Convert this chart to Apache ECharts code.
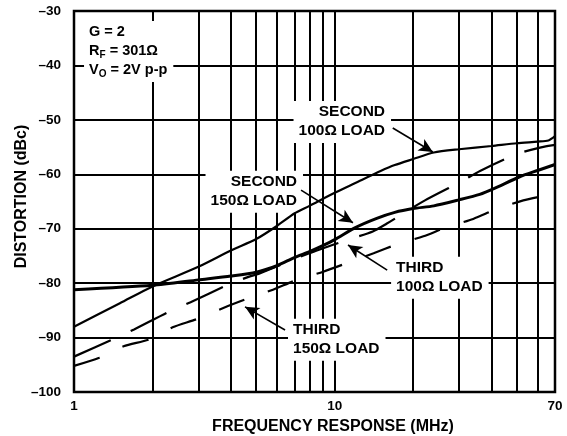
<!DOCTYPE html>
<html><head><meta charset="utf-8">
<script src="https://cdn.jsdelivr.net/npm/echarts@6/dist/echarts.min.js"></script>
<style>html,body{margin:0;padding:0;background:#fff}#c{width:567px;height:436px}</style>
</head><body><div id="c"></div>
<script>
// ---- data (frequency MHz, distortion dBc) ----
const yMin = -100, yMax = -30, yStep = 10;
const xMin = 1, xMax = 70;
const xMinorGrid = [2, 3, 4, 5, 6, 7, 8, 9, 20, 30, 40, 50, 60];

const second100 = [[1,-88.0],[1.5,-83.7],[2,-80.6],[3,-77.0],[4,-74.0],[5,-71.9],[6,-69.5],[7,-67.2],[8,-65.8],[10,-63.4],[12,-61.6],[15,-59.4],[17,-58.3],[20,-57.2],[24,-56.0],[30,-55.4],[40,-54.8],[50,-54.3],[60,-54.0],[66,-53.8],[70,-53.0]];
const second150 = [[1,-81.2],[2,-80.4],[3,-79.4],[4,-78.7],[5,-78.0],[6,-76.8],[7,-75.3],[8,-74.2],[9,-73.1],[10,-72.0],[12,-69.8],[14.5,-68.1],[17,-67.0],[20,-66.3],[24,-65.8],[30,-64.7],[36,-63.7],[41,-62.6],[51,-60.5],[60,-59.3],[70,-58.2]];
const third100 = [[1,-93.5],[1.4,-90.4],[1.7,-88.5],[2.3,-85.3],[2.8,-83.5],[3.9,-80.3],[4.7,-78.8],[5.1,-78.3],[7.9,-74.6],[11.1,-72.1],[14,-70.5],[15.8,-69.1],[22.2,-64.8],[30.7,-61.3],[36.1,-59.4],[49.9,-56.3],[61.3,-55.1],[70,-54.6]];
const third150 = [[1,-95.2],[1.25,-93.7],[1.55,-91.6],[1.96,-90.3],[2.39,-88.1],[2.96,-86.6],[3.72,-84.6],[4.6,-82.9],[5.8,-81.2],[7.15,-79.4],[9.04,-77.9],[11.3,-76.2],[14.1,-74.5],[17.5,-72.8],[21.9,-71.4],[26.9,-69.7],[34,-68.2],[41.8,-66.4],[52.9,-64.8],[65.9,-63.8],[70,-63.4]];

// annotation arrows: [from, to] in data coords
const arrows = [
  [[16.7,-51.5],[23.8,-55.9]],
  [[7.43,-62.9],[11.75,-68.9]],
  [[15.9,-77.6],[11.25,-73.0]],
  [[6.45,-88.6],[4.53,-84.35]]
];
// annotation texts: anchor (data coords) = top of first line
const notes = [
  {at:[1.142,-32.4], align:'left', size:14.5, lines:[[['G = 2',0]],[['R',0],['F',1],[' = 301\u03A9',0]],[['V',0],['O',1],[' = 2V p-p',0]]]},
  {at:[15.6,-47.1], align:'right', size:15.5, lines:[[['SECOND',0]],[['100\u03A9 LOAD',0]]]},
  {at:[7.17,-59.9], align:'right', size:15.5, lines:[[['SECOND',0]],[['150\u03A9 LOAD',0]]]},
  {at:[17.2,-75.7], align:'left', size:15.5, lines:[[['THIRD',0]],[['100\u03A9 LOAD',0]]]},
  {at:[6.92,-87.1], align:'left', size:15.5, lines:[[['THIRD',0]],[['150\u03A9 LOAD',0]]]}
];

const FONT = '"Liberation Sans", Arial, Helvetica, sans-serif';
const chart = echarts.init(document.getElementById('c'), null, {renderer:'canvas'});
const curve = (name, data, width, dash) => ({
  type:'line', name, data, symbol:'none', showSymbol:false, smooth:0.25, z:5,
  lineStyle:{color:'#000', width, type: dash || 'solid', cap:'butt'}, silent:true
});
chart.setOption({
  animation:false,
  backgroundColor:'#fff',
  grid:{left:74, right:12, top:11, bottom:44, show:true, borderColor:'#000', borderWidth:2.5,
    backgroundColor:'transparent', containLabel:false, outerBoundsMode:'none'},
  xAxis:{type:'log', logBase:10, min:xMin, max:xMax,
    axisLine:{show:false}, axisTick:{show:false},
    axisLabel:{color:'#000', fontFamily:FONT, fontWeight:'bold', fontSize:13.5, margin:7},
    splitLine:{show:true, lineStyle:{color:'#000', width:2}},
    name:'FREQUENCY RESPONSE (MHz)', nameLocation:'middle', nameGap:27, nameMoveOverlap:false,
    nameTextStyle:{color:'#000', fontFamily:FONT, fontWeight:'bold', fontSize:16, padding:[0,0,0,37]}},
  yAxis:{type:'value', min:yMin, max:yMax, interval:yStep,
    axisLine:{show:false}, axisTick:{show:false},
    axisLabel:{color:'#000', fontFamily:FONT, fontWeight:'bold', fontSize:13.5, margin:13,
      formatter: v => String(v).replace('-', '\u2013')},
    splitLine:{show:true, lineStyle:{color:'#000', width:2}},
    name:'DISTORTION (dBc)', nameLocation:'middle', nameGap:44, nameMoveOverlap:false,
    nameTextStyle:{color:'#000', fontFamily:FONT, fontWeight:'bold', fontSize:16, padding:[0,0,0,10]}},
  series:[
    {type:'line', data:[[xMin,yMin]], symbol:'none', showSymbol:false, silent:true, z:1,
      markLine:{silent:true, symbol:'none', z:1, label:{show:false},
        lineStyle:{color:'#000', width:2, type:'solid'},
        data: xMinorGrid.map(v => ({xAxis:v}))}},
    curve('SECOND 100', second100, 2.2),
    curve('SECOND 150', second150, 3),
    curve('THIRD 100', third100, 2.2, [40, 22]),
    curve('THIRD 150', third150, 2.2, [27, 25]),
    {type:'line', data:[[xMin,yMin]], symbol:'none', showSymbol:false, silent:true, z:6,
      markLine:{silent:true, z:6, symbol:['none','arrow'], symbolSize:[10,14], label:{show:false},
        lineStyle:{color:'#000', width:1.6, type:'solid'},
        data: arrows.map(a => [{coord:a[0]}, {coord:a[1]}])}}
  ]
});

// annotations
const ctx = document.createElement('canvas').getContext('2d');
const measure = (t, s) => { ctx.font = 'bold ' + s + 'px ' + FONT; return ctx.measureText(t).width; };
const els = [];
notes.forEach(n => {
  const p = chart.convertToPixel({gridIndex:0}, n.at);
  const lh = 19, sub = Math.round(n.size * 0.7);
  const widths = n.lines.map(line => line.reduce((w, s) => w + measure(s[0], s[1] ? sub : n.size), 0));
  const maxW = Math.max.apply(null, widths);
  const left = n.align === 'right' ? p[0] - maxW : p[0];
  els.push({type:'rect', z:4, silent:true,
    shape:{x:left - 5, y:p[1] - 3, width:maxW + 11, height:n.lines.length * lh + 4},
    style:{fill:'#fff'}});
  n.lines.forEach((line, i) => {
    let x = n.align === 'right' ? p[0] - widths[i] : p[0];
    line.forEach(s => {
      const fs = s[1] ? sub : n.size;
      els.push({type:'text', z:7, silent:true,
        style:{x:x, y:p[1] + i * lh + (s[1] ? n.size * 0.5 : 0), text:s[0],
          font:'bold ' + fs + 'px ' + FONT, fill:'#000',
          align:'left', textAlign:'left', verticalAlign:'top', textVerticalAlign:'top'}});
      x += measure(s[0], fs);
    });
  });
});
chart.setOption({graphic:{elements:els}});
</script></body></html>
